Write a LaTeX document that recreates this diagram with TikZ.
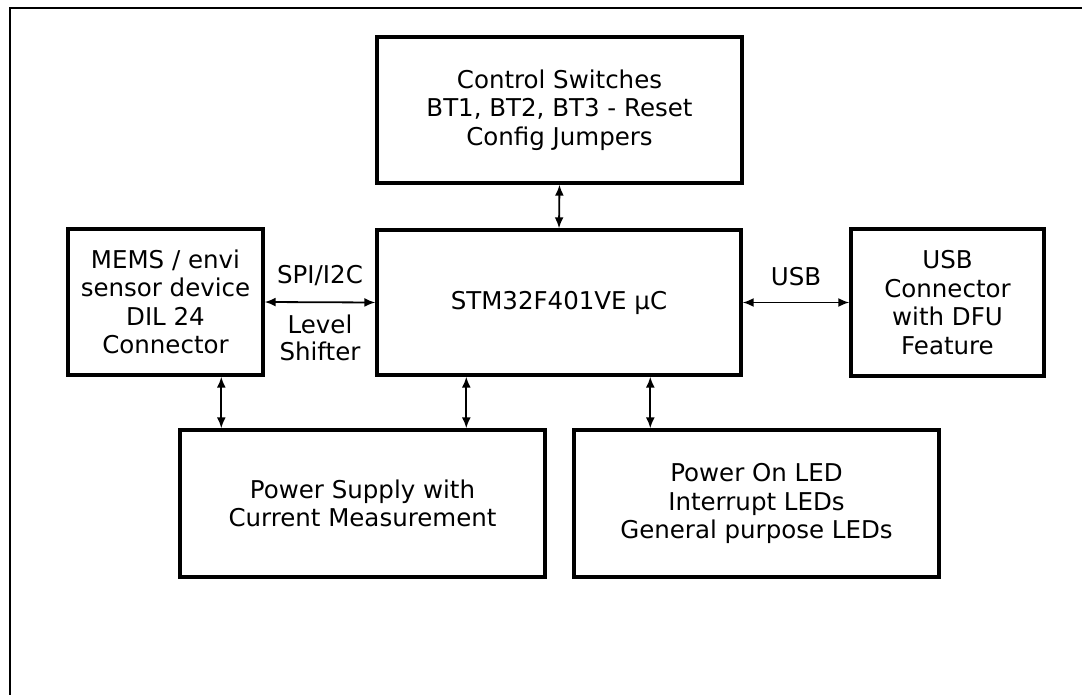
\documentclass[tikz,border=0pt]{standalone}
\usepackage{fontspec}
\setmainfont{DejaVu Sans}
\usetikzlibrary{positioning,arrows.meta,calc}

\begin{document}
\begin{tikzpicture}[
  x=1pt, y=-1pt,
  block/.style={draw, line width=3.4pt, align=center, inner sep=0pt, font=\fontsize{24.5}{28.5}\selectfont},
  link/.style={{Latex[length=11pt,width=9pt]}-{Latex[length=11pt,width=9pt]}, line width=1.8pt},
  lbl/.style={align=center, font=\fontsize{24.5}{27}\selectfont}
]
\useasboundingbox (0,0) rectangle (1082,695);
\draw[line width=2pt] (1082,8) -| (10,695);
% blocks
\node[block, minimum width=365pt, minimum height=146pt] (ctrl) at (559.5,110) {Control Switches\\BT1, BT2, BT3 - Reset\\Config Jumpers};
\node[block, minimum width=364pt, minimum height=145pt] (mcu) at (559,302.5) {STM32F401VE μC};
\node[block, minimum width=195pt, minimum height=146pt] (mems) at (165.5,302) {MEMS / envi\\sensor device\\DIL 24\\Connector};
\node[block, minimum width=193pt, minimum height=147pt] (usb) at (947.5,302.5) {USB\\Connector\\with DFU\\Feature};
\node[block, minimum width=365pt, minimum height=147pt] (pwr) at (362.5,503.5) {Power Supply with\\Current Measurement};
\node[block, minimum width=365pt, minimum height=147pt] (led) at (756.5,503.5) {Power On LED\\Interrupt LEDs\\General purpose LEDs};
% connections
\draw[link] (ctrl.south) -- (mcu.north);
\draw[link] (mems.east) -- node[lbl, above=12pt]{SPI/I2C} node[lbl, below=8pt]{Level\\Shifter} (mcu.west);
\draw[link] (mcu.east) -- node[lbl, above=12pt]{USB} (usb.west);
\draw[link] ($(mems.south west)+(155,0)$) -- ($(pwr.north west)+(43,0)$);
\draw[link] ($(mcu.south west)+(91,0)$) -- ($(pwr.north west)+(288,0)$);
\draw[link] ($(mcu.south west)+(275,0)$) -- ($(led.north west)+(78,0)$);
\end{tikzpicture}
\end{document}
